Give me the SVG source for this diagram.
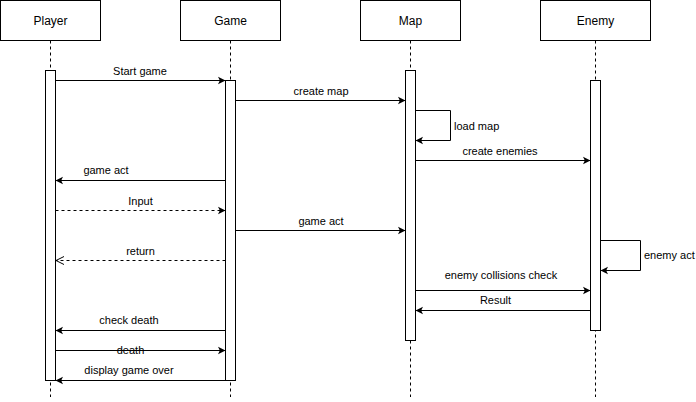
<svg xmlns="http://www.w3.org/2000/svg" width="696" height="402" viewBox="0 0 696 402">
<style>
.box{fill:#fff;stroke:#000;stroke-width:1}
.life{stroke:#000;stroke-width:1;stroke-dasharray:3,3;fill:none}
.act{fill:#fff;stroke:#000;stroke-width:1}
.msg{stroke:#000;stroke-width:1;fill:none}
.dash{stroke-dasharray:3,3}
.t{font-family:"Liberation Sans",Arial,sans-serif;font-size:11px;fill:#000}
.h{font-family:"Liberation Sans",Arial,sans-serif;font-size:12px;fill:#000;text-anchor:middle}
.c{text-anchor:middle}
</style>
<defs>
<marker id="block" markerUnits="userSpaceOnUse" markerWidth="10" markerHeight="10" viewBox="0 0 10 10" refX="8" refY="5" orient="auto">
<path d="M0.5,1.3 L8,5 L0.5,8.7 L2.3,5 Z" fill="#000"/>
</marker>
<marker id="open" markerUnits="userSpaceOnUse" markerWidth="10" markerHeight="10" viewBox="0 0 10 10" refX="9" refY="5" orient="auto">
<path d="M1,1 L9,5 L1,9" fill="none" stroke="#000" stroke-width="1"/>
</marker>
</defs>
<g id="player">
<rect class="box" x="0.5" y="0.5" width="100" height="40"/>
<text class="h" x="50.5" y="24.5">Player</text>
<line class="life" x1="50.5" y1="40.5" x2="50.5" y2="397"/>
<rect class="act" x="45.5" y="70.5" width="10" height="310"/>
</g>
<g id="game">
<rect class="box" x="180.5" y="0.5" width="100" height="40"/>
<text class="h" x="230.5" y="24.5">Game</text>
<line class="life" x1="230.5" y1="40.5" x2="230.5" y2="397"/>
<rect class="act" x="225.5" y="80.5" width="10" height="300"/>
</g>
<g id="map">
<rect class="box" x="360.5" y="0.5" width="100" height="40"/>
<text class="h" x="410.5" y="24.5">Map</text>
<line class="life" x1="410.5" y1="40.5" x2="410.5" y2="397"/>
<rect class="act" x="405.5" y="70.5" width="10" height="270"/>
</g>
<g id="enemy">
<rect class="box" x="540.5" y="0.5" width="110" height="40"/>
<text class="h" x="595.5" y="24.5">Enemy</text>
<line class="life" x1="595.5" y1="40.5" x2="595.5" y2="397"/>
<rect class="act" x="590.5" y="80.5" width="10" height="250"/>
</g>
<g id="connectors">
<line class="msg" x1="55.5" y1="80.5" x2="225.5" y2="80.5" marker-end="url(#block)"/>
<text class="t c" x="140" y="75">Start game</text>
<line class="msg" x1="235.5" y1="100.5" x2="405.5" y2="100.5" marker-end="url(#block)"/>
<text class="t c" x="321" y="95">create map</text>
<polyline class="msg" points="415.5,110.5 450.5,110.5 450.5,140.5 415.5,140.5" marker-end="url(#block)"/>
<text class="t" x="454" y="130">load map</text>
<line class="msg" x1="415.5" y1="160.5" x2="590.5" y2="160.5" marker-end="url(#block)"/>
<text class="t c" x="500" y="155">create enemies</text>
<line class="msg" x1="225.5" y1="180.5" x2="55.5" y2="180.5" marker-end="url(#block)"/>
<text class="t c" x="106" y="174">game act</text>
<line class="msg dash" x1="55.5" y1="210.5" x2="225.5" y2="210.5" marker-end="url(#block)"/>
<text class="t c" x="140.5" y="205">Input</text>
<line class="msg" x1="235.5" y1="230.5" x2="405.5" y2="230.5" marker-end="url(#block)"/>
<text class="t c" x="321" y="225">game act</text>
<line class="msg dash" x1="225.5" y1="260.5" x2="56" y2="260.5" marker-end="url(#open)"/>
<text class="t c" x="140.5" y="255">return</text>
<polyline class="msg" points="600.5,240.5 640.5,240.5 640.5,270.5 600.5,270.5" marker-end="url(#block)"/>
<text class="t" x="644" y="259">enemy act</text>
<line class="msg" x1="415.5" y1="290.5" x2="590.5" y2="290.5" marker-end="url(#block)"/>
<text class="t c" x="501" y="279">enemy collisions check</text>
<line class="msg" x1="590.5" y1="310.5" x2="415.5" y2="310.5" marker-end="url(#block)"/>
<text class="t c" x="495.5" y="304">Result</text>
<line class="msg" x1="225.5" y1="330.5" x2="55.5" y2="330.5" marker-end="url(#block)"/>
<text class="t c" x="129" y="324">check death</text>
<line class="msg" x1="55.5" y1="350.5" x2="225.5" y2="350.5" marker-end="url(#block)"/>
<text class="t c" x="130.5" y="354">death</text>
<line class="msg" x1="225.5" y1="380.5" x2="55.5" y2="380.5" marker-end="url(#block)"/>
<text class="t c" x="129" y="374">display game over</text>
</g>
</svg>
